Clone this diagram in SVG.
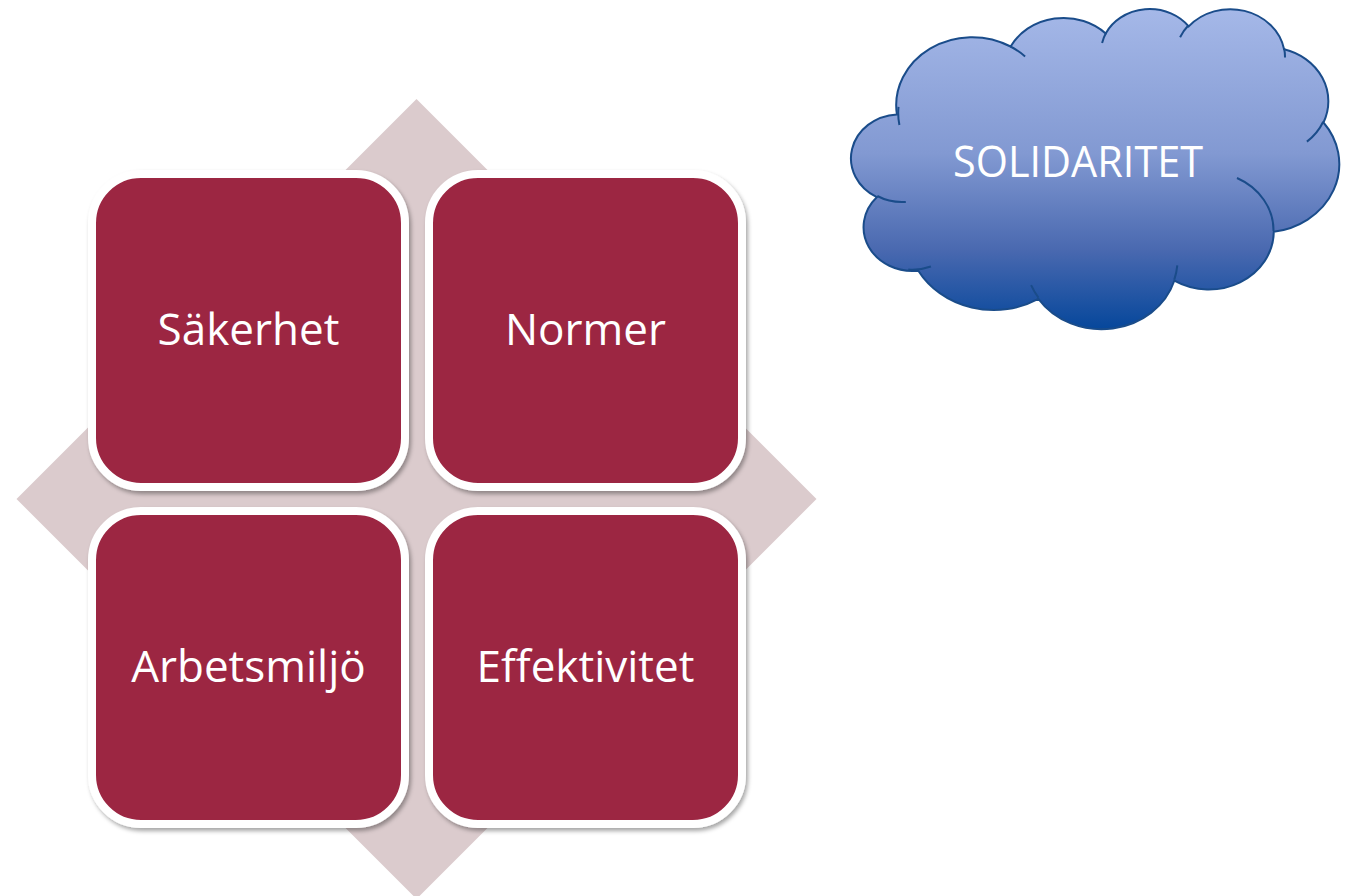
<svg xmlns="http://www.w3.org/2000/svg" width="1348" height="896" viewBox="0 0 1348 896">
<defs>
<linearGradient id="cloudGrad" x1="0" y1="0" x2="0" y2="1">
<stop offset="0" stop-color="#a5b8e8"/>
<stop offset="0.45" stop-color="#8299d2"/>
<stop offset="0.75" stop-color="#4a69b0"/>
<stop offset="1" stop-color="#06479b"/>
</linearGradient>
<filter id="shadow" x="-10%" y="-10%" width="125%" height="125%">
<feDropShadow dx="2" dy="3" stdDeviation="2" flood-color="#000" flood-opacity="0.35"/>
</filter>
</defs>
<style>
.box{fill:#9c2743;stroke:#ffffff;stroke-width:8;filter:url(#shadow);}
.lbl{font-family:"Open Sans","Noto Sans","Liberation Sans",sans-serif;font-size:44px;fill:#ffffff;text-anchor:middle;}
.cloud{fill:url(#cloudGrad);stroke:#1a4c8a;stroke-width:2;}
.tail{fill:none;stroke:#1a4c8a;stroke-width:2;}
</style>
<rect width="1348" height="896" fill="#ffffff"/>
<g id="diamond">
<polygon points="416.5,99 816.5,499 416.5,899 16.5,499" fill="#dbcbcd"/>
</g>
<g id="connectors"></g>
<g id="node-sakerhet">
<rect class="box" x="92" y="174" width="313" height="313" rx="49" ry="49"/>
<text class="lbl" x="248.5" y="345">Säkerhet</text>
</g>
<g id="node-normer">
<rect class="box" x="429" y="174" width="313" height="313" rx="49" ry="49"/>
<text class="lbl" x="585.5" y="345">Normer</text>
</g>
<g id="node-arbetsmiljo">
<rect class="box" x="92" y="511" width="313" height="313" rx="49" ry="49"/>
<text class="lbl" x="248.5" y="682">Arbetsmiljö</text>
</g>
<g id="node-effektivitet">
<rect class="box" x="429" y="511" width="313" height="313" rx="49" ry="49"/>
<text class="lbl" x="585.5" y="682">Effektivitet</text>
</g>
<g id="node-solidaritet">
<path class="cloud" d="M 896.9 114.4 A 75.97 68.07 0 0 1 1010.6 46.5 A 60.0 53.83 0 0 1 1105.7 33.4 A 49.1 44.04 0 0 1 1188.7 26.4 A 54.64 48.85 0 0 1 1284.1 49.3 A 60.0 53.87 0 0 1 1323.5 122.5 A 76.22 68.3 0 0 1 1273.8 231.75 A 65.08 58.27 0 0 1 1174.3 280.7 A 75.96 68.26 0 0 1 1038.4 298.9 A 86.85 78.1 0 0 1 918.3 270.7 A 49.05 43.84 0 0 1 876.8 197.2 A 48.88 44.04 0 0 1 896.9 114.4 Z"/>
<path class="tail" d="M 905.8 201.9 A 48.88 44.04 0 0 1 877.3 196.0 M 930.9 266.5 A 49.05 43.84 0 0 1 908.3 269.5 M 1038.4 297.6 A 75.96 68.26 0 0 1 1031.1 285.2 M 1177.3 265.4 A 75.96 68.26 0 0 1 1174.3 279.6 M 1237.0 178.0 A 65.08 58.27 0 0 1 1273.5 230.9 M 1323.2 121.7 A 60.0 53.87 0 0 1 1306.9 141.6 M 1284.1 48.2 A 54.64 48.85 0 0 1 1285.0 57.55 M 1180.1 37.3 A 54.64 48.85 0 0 1 1188.5 25.3 M 1102.1 43.0 A 49.1 44.04 0 0 1 1106.1 32.7 M 1010.5 46.5 A 75.97 68.07 0 0 1 1025.1 56.45 M 899.4 125.0 A 75.97 68.07 0 0 1 898.5 106.9"/>
<text class="lbl" x="1078" y="177" textLength="250" lengthAdjust="spacingAndGlyphs">SOLIDARITET</text>
</g>
</svg>
